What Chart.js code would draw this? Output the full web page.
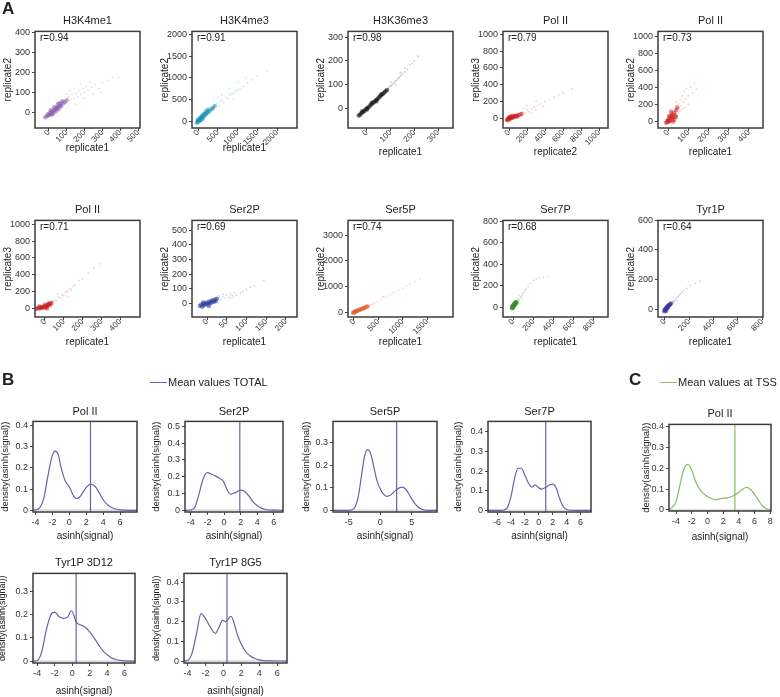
<!DOCTYPE html>
<html>
<head>
<meta charset="utf-8">
<script src="https://cdn.jsdelivr.net/npm/chart.js@4.4.1/dist/chart.umd.min.js"></script>
<style>
  body { margin: 0; background: #fff; }
  #fig { position: relative; width: 780px; height: 697px; font-family: "Liberation Sans", Arial, sans-serif; }
  #fig canvas { position: absolute; }
  .lbl { position: absolute; white-space: nowrap; color: #222; line-height: 1; }
  .key { position: absolute; height: 0; border-top: 1px solid; }
</style>
</head>
<body>
<div id="fig"></div>
<script>
// ---- panel A: replicate scatter plots ----
const scatterTitles = ["H3K4me1", "H3K4me3", "H3K36me3", "Pol II", "Pol II", "Pol II", "Ser2P", "Ser5P", "Ser7P", "Tyr1P"];
const scatterR = ["r=0.94", "r=0.91", "r=0.98", "r=0.79", "r=0.73", "r=0.71", "r=0.69", "r=0.74", "r=0.68", "r=0.64"];
const scatterXLabel = ["replicate1", "replicate1", "replicate1", "replicate2", "replicate1", "replicate1", "replicate1", "replicate1", "replicate1", "replicate1"];
const scatterYLabel = ["replicate2", "replicate2", "replicate2", "replicate3", "replicate2", "replicate3", "replicate2", "replicate2", "replicate2", "replicate2"];

const xTicksA = [[0, 100, 200, 300, 400, 500], [0, 500, 1000, 1500, 2000], [0, 100, 200, 300], [0, 200, 400, 600, 800, 1000], [0, 100, 200, 300, 400],
                 [0, 100, 200, 300, 400], [0, 50, 100, 150, 200], [0, 500, 1000, 1500], [0, 200, 400, 600, 800], [0, 200, 400, 600, 800]];
const yTicksA = [[0, 100, 200, 300, 400], [0, 500, 1000, 1500, 2000], [0, 100, 200, 300], [0, 200, 400, 600, 800, 1000], [0, 200, 400, 600, 800, 1000],
                 [0, 200, 400, 600, 800, 1000], [0, 100, 200, 300, 400, 500], [0, 1000, 2000, 3000], [0, 200, 400, 600, 800], [0, 200, 400, 600]];
const xRangeA = [[-77, 511], [-152, 2506], [-80, 363], [-67, 1100], [-50, 470], [-53, 505], [-38, 228], [-123, 2034], [-100, 940], [-57, 808]];
const yRangeA = [[-79, 405], [-160, 2068], [-83, 325], [-118, 1035], [-81, 1058], [-106, 1047], [-95, 568], [-192, 3577], [-92, 809], [-53, 600]];

const h3k4me1CoreX = [-20, -10, 0, 5, 10, 15, 20, 25, 30, 35, 40, 45, 50, 55, 60, 65, 70, 80, 90, 100, 30, 50, 10, 75, -5, 20, 40, 60];
const h3k4me1CoreY = [-25, -20, -15, -5, -12, 0, 5, -5, 10, 15, 5, 20, 25, 15, 30, 40, 30, 45, 50, 60, 25, 40, 10, 55, -10, -10, 20, 45];
const h3k4me1TailX = [110, 120, 130, 140, 150, 160, 170, 180, 190, 200, 210, 220, 240, 260, 280, 300, 330, 360, 390, 150, 200, 250, 120, 180, 140, 230, 290, 100];
const h3k4me1TailY = [75, 60, 90, 70, 95, 80, 110, 90, 120, 100, 130, 110, 125, 140, 120, 150, 160, 175, 175, 40, 70, 90, 110, 140, 120, 150, 100, 90];

const h3k4me3CoreX = [-30, -10, 0, 20, 40, 60, 80, 100, 120, 150, 180, 200, 230, 260, 300, 340, 380, 420, 0, 50, 100, 150, 200, 250, 60, 120];
const h3k4me3CoreY = [-40, -20, 0, 10, 30, 40, 70, 80, 100, 110, 150, 160, 190, 210, 240, 280, 300, 350, 40, 80, 130, 170, 220, 260, 10, 50];
const h3k4me3TailX = [480, 520, 560, 600, 650, 700, 750, 800, 850, 900, 950, 1000, 1060, 1150, 1250, 1350, 1500, 1740, 600, 800, 1000, 400, 500, 1200, 900];
const h3k4me3TailY = [400, 350, 450, 480, 430, 550, 520, 600, 620, 650, 700, 720, 745, 800, 880, 950, 1050, 1160, 600, 750, 900, 500, 550, 1000, 500];

const h3k36me3CoreX = [-35, -30, -25, -20, -15, -10, -5, 0, 5, 10, 15, 20, 25, 30, 35, 40, 45, 50, 55, 60, 65, 70, 75, 80, 85, -20, 0, 20, 40, 60];
const h3k36me3CoreY = [-30, -28, -22, -18, -14, -10, -4, 0, 4, 8, 14, 18, 22, 27, 32, 36, 41, 46, 50, 55, 60, 64, 69, 74, 78, -12, -5, 24, 30, 60];
const h3k36me3TailX = [90, 95, 100, 105, 110, 115, 120, 125, 130, 135, 140, 145, 150, 160, 170, 180, 190, 200, 215, 100, 120, 140, 160];
const h3k36me3TailY = [85, 92, 95, 98, 105, 110, 115, 118, 125, 130, 135, 140, 148, 155, 165, 185, 190, 200, 220, 110, 100, 150, 170];

const polII23CoreX = [-25, -15, -10, 0, 5, 10, 20, 30, 40, 50, 60, 70, 80, 100, 120, 140, 20, 40, 0, 90];
const polII23CoreY = [-20, -25, -10, -5, 5, -10, 0, 10, 5, 15, 20, 25, 30, 35, 40, 50, 20, 30, 10, 15];
const polII23TailX = [150, 180, 200, 220, 250, 280, 300, 320, 350, 380, 400, 450, 500, 550, 600, 700, 200, 300, 150, 250];
const polII23TailY = [70, 60, 100, 80, 110, 130, 100, 150, 170, 140, 200, 220, 250, 280, 300, 350, 150, 200, 120, 60];

const polII12CoreX = [-10, -5, 0, 0, 5, 10, 10, 15, 20, 20, 25, 30, 30, 35, 40, 40, 45, 15, 5, 25];
const polII12CoreY = [-20, 0, -10, 20, 10, 40, 0, 60, 30, 80, 50, 100, 20, 70, 130, 50, 160, 110, 60, -5];
const polII12TailX = [50, 55, 60, 65, 70, 75, 80, 85, 90, 100, 110, 120, 50, 60, 70, 130, 40, 100, 140, 80];
const polII12TailY = [200, 150, 250, 180, 300, 220, 350, 260, 384, 300, 400, 330, 100, 120, 140, 450, 230, 200, 380, 160];

const polII13CoreX = [-45, -40, -30, -25, -20, -15, -10, -5, 0, 5, 10, 15, 20, 25, 30, 35, -30, 0, 20, 10];
const polII13CoreY = [-10, 0, -5, 10, 0, 15, 5, 20, 10, 30, 20, 40, 30, 50, 45, 65, 20, 40, 60, -5];
const polII13TailX = [40, 50, 60, 70, 80, 90, 100, 110, 120, 130, 140, 150, 160, 180, 200, 230, 260, 290, 70, 120];
const polII13TailY = [80, 100, 90, 130, 120, 160, 150, 190, 200, 230, 220, 260, 280, 330, 350, 420, 480, 530, 170, 140];

const ser2pCoreX = [-18, -15, -12, -10, -8, -5, -2, 0, 2, 5, 8, 10, 12, 15, 18, 20, 22, 25, -10, 5];
const ser2pCoreY = [-20, -10, -25, -5, -15, 0, -10, 5, -5, 10, 0, 15, 5, 20, 10, 25, 15, 30, 5, -20];
const ser2pTailX = [28, 32, 35, 40, 45, 50, 55, 60, 65, 70, 75, 85, 90, 100, 110, 120, 144, 40, 60, 30];
const ser2pTailY = [30, 40, 25, 45, 35, 55, 40, 60, 50, 70, 55, 68, 80, 95, 110, 120, 155, 60, 35, 50];

const ser5pCoreX = [-20, -10, 0, 10, 20, 30, 40, 50, 60, 80, 100, 120, 140, 160, 180, 200, 220, 240, 260, 280];
const ser5pCoreY = [-30, -20, -10, 0, 10, 20, 30, 40, 50, 65, 80, 95, 110, 125, 140, 160, 175, 190, 205, 220];
const ser5pTailX = [300, 340, 380, 420, 460, 500, 560, 620, 680, 740, 800, 860, 920, 1000, 1080, 1150, 1250, 1350, 400, 600];
const ser5pTailY = [250, 280, 320, 360, 400, 440, 500, 560, 620, 680, 740, 800, 860, 930, 1010, 1100, 1200, 1300, 300, 600];

const ser7pCoreX = [-12, -10, -8, -5, -3, 0, 2, 5, 8, 10, 12, 15, 18, 20, 22, 25, 28, 30, 35, 0];
const ser7pCoreY = [-10, 5, -5, 10, 0, 15, 5, 20, 10, 30, 20, 35, 25, 40, 30, 45, 35, 48, 40, -8];
const ser7pTailX = [40, 45, 50, 60, 70, 80, 90, 100, 110, 120, 130, 150, 170, 200, 230, 260, 300, 340, 60, 90];
const ser7pTailY = [60, 50, 75, 70, 90, 100, 110, 130, 140, 160, 170, 190, 220, 248, 260, 270, 280, 285, 110, 80];

const tyr1pCoreX = [-5, -3, 0, 2, 5, 8, 10, 12, 15, 18, 20, 22, 25, 28, 30, 35, 40, 45, 48, 10];
const tyr1pCoreY = [-15, -5, -10, 0, -5, 5, 0, 10, 5, 15, 10, 20, 15, 25, 18, 28, 30, 35, 38, -12];
const tyr1pTailX = [50, 55, 60, 65, 70, 75, 80, 90, 100, 110, 120, 130, 140, 155, 180, 210, 250, 290, 70, 100];
const tyr1pTailY = [40, 30, 45, 50, 40, 60, 55, 70, 80, 85, 95, 105, 115, 127, 140, 160, 175, 190, 80, 60];

// ---- panels B and C: densities of asinh(signal) ----
const densTitles = ["Pol II", "Ser2P", "Ser5P", "Ser7P", "Pol II", "Tyr1P 3D12", "Tyr1P 8G5"];
const densMeans = [2.5, 1.9, 2.6, 1.0, 3.5, 0.45, 0.4];
const densXTicks = [[-4, -2, 0, 2, 4, 6], [-4, -2, 0, 2, 4, 6], [-5, 0, 5], [-6, -4, -2, 0, 2, 4, 6], [-4, -2, 0, 2, 4, 6, 8], [-4, -2, 0, 2, 4, 6], [-4, -2, 0, 2, 4, 6]];
const densYTicks = [[0, 0.1, 0.2, 0.3, 0.4], [0, 0.1, 0.2, 0.3, 0.4, 0.5], [0, 0.1, 0.2, 0.3], [0, 0.1, 0.2, 0.3, 0.4], [0, 0.1, 0.2, 0.3, 0.4], [0, 0.1, 0.2, 0.3], [0, 0.1, 0.2, 0.3, 0.4]];
const densXRange = [[-4.3, 8.0], [-4.7, 7.1], [-7.5, 9.0], [-7.3, 7.5], [-4.9, 8.1], [-4.5, 7.2], [-4.4, 7.1]];
const densYRange = [[-0.008, 0.42], [-0.01, 0.53], [-0.007, 0.395], [-0.008, 0.454], [-0.005, 0.41], [-0.008, 0.376], [-0.01, 0.444]];

const polIIx = [-4.3, -4, -3.5, -3, -2.5, -2, -1.7, -1.3, -1, -0.5, 0, 0.5, 0.8, 1.2, 1.6, 2, 2.5, 3, 3.5, 4, 4.5, 5, 5.5, 6, 6.5, 7, 8];
const polIIy = [0, 0.002, 0.012, 0.06, 0.17, 0.262, 0.28, 0.262, 0.205, 0.14, 0.11, 0.068, 0.056, 0.062, 0.085, 0.108, 0.123, 0.115, 0.085, 0.05, 0.027, 0.013, 0.006, 0.002, 0.001, 0, 0];
const ser2px = [-4.7, -4, -3.5, -3, -2.5, -2, -1.5, -1, -0.5, -0.1, 0.4, 0.8, 1.3, 2, 2.5, 3, 3.5, 4, 4.5, 5, 5.5, 6, 7.1];
const ser2py = [0, 0.002, 0.02, 0.1, 0.19, 0.225, 0.215, 0.204, 0.19, 0.175, 0.12, 0.096, 0.104, 0.12, 0.112, 0.085, 0.05, 0.027, 0.013, 0.005, 0.002, 0.001, 0];
const ser5px = [-7.5, -5, -4.5, -4, -3.5, -3, -2.5, -2, -1.5, -1, -0.5, 0, 0.5, 1, 1.5, 2, 2.5, 3, 3.5, 4, 4.5, 5, 5.5, 6, 6.5, 7, 7.5, 9];
const ser5py = [0, 0, 0.003, 0.015, 0.06, 0.15, 0.24, 0.27, 0.25, 0.19, 0.13, 0.095, 0.072, 0.062, 0.066, 0.077, 0.09, 0.1, 0.103, 0.095, 0.075, 0.05, 0.03, 0.015, 0.006, 0.002, 0, 0];
const ser7px = [-7.3, -5.5, -5, -4.5, -4, -3.5, -3, -2.5, -2, -1.5, -1, -0.5, 0, 0.4, 1, 1.5, 2, 2.5, 3, 3.5, 4, 4.5, 7.5];
const ser7py = [0, 0, 0.002, 0.015, 0.07, 0.16, 0.215, 0.215, 0.18, 0.14, 0.12, 0.13, 0.115, 0.109, 0.118, 0.13, 0.134, 0.115, 0.06, 0.02, 0.005, 0.001, 0];
const tssx = [-4.9, -4.5, -4, -3.5, -3, -2.5, -2, -1.5, -1, -0.5, 0, 0.5, 1, 1.5, 2, 2.5, 3, 3.5, 4, 4.5, 5, 5.5, 6, 6.5, 7, 7.5, 8.1];
const tssy = [0.002, 0.012, 0.04, 0.12, 0.195, 0.218, 0.19, 0.135, 0.1, 0.078, 0.065, 0.055, 0.049, 0.053, 0.057, 0.058, 0.063, 0.072, 0.085, 0.1, 0.108, 0.098, 0.075, 0.047, 0.02, 0.007, 0.002];
const tyr3d12x = [-4.5, -4, -3.5, -3, -2.5, -2, -1.5, -1, -0.5, -0.1, 0.5, 1, 1.5, 2, 2.5, 3, 3.5, 4, 4.5, 5, 5.5, 6, 7.2];
const tyr3d12y = [0, 0.003, 0.04, 0.13, 0.195, 0.21, 0.19, 0.183, 0.19, 0.217, 0.165, 0.155, 0.145, 0.125, 0.1, 0.072, 0.045, 0.027, 0.014, 0.007, 0.003, 0.001, 0];
const tyr8g5x = [-4.4, -4, -3.5, -3, -2.5, -2, -1.5, -0.9, -0.5, -0.1, 0.25, 0.5, 0.85, 1.2, 1.6, 2, 2.5, 3, 3.5, 4, 4.5, 5, 7.1];
const tyr8g5y = [0, 0.003, 0.04, 0.14, 0.24, 0.215, 0.175, 0.14, 0.17, 0.206, 0.2, 0.21, 0.227, 0.19, 0.128, 0.085, 0.047, 0.025, 0.013, 0.006, 0.002, 0.001, 0];

const FONT = '"Liberation Sans", Arial, sans-serif';
const fig = document.getElementById("fig");

function txt(s, x, y, opt) {
  opt = opt || {};
  const d = document.createElement("div");
  d.className = "lbl";
  d.textContent = s;
  d.style.left = x + "px";
  d.style.top = y + "px";
  d.style.fontSize = (opt.size || 11) + "px";
  if (opt.bold) d.style.fontWeight = "bold";
  d.style.transform = opt.left ? "translate(0,-50%)" : "translate(-50%,-50%)";
  fig.appendChild(d);
}

function pts(xs, ys) {
  return xs.map((x, i) => ({ x: x, y: ys[i] }));
}

const frame = {
  id: "frame",
  afterDatasetsDraw(chart) {
    const a = chart.chartArea;
    const ctx = chart.ctx;
    ctx.save();
    ctx.strokeStyle = "#3c3c3c";
    ctx.lineWidth = 1.5;
    ctx.strokeRect(a.left, a.top, a.right - a.left, a.bottom - a.top);
    ctx.restore();
  },
};

// box = [left, top, width, height] of the plotting panel in page px
function addChart(o) {
  const padT = 6, padR = 8;
  const W = o.yw + o.box[2] + padR;
  const H = padT + o.box[3] + o.xh;
  const cv = document.createElement("canvas");
  cv.width = W;
  cv.height = H;
  cv.style.left = o.box[0] - o.yw + "px";
  cv.style.top = o.box[1] - padT + "px";
  cv.style.width = W + "px";
  cv.style.height = H + "px";
  fig.appendChild(cv);

  const axis = (range, ticks, title, fix, rot, titleSize, tickSize) => ({
    type: "linear",
    min: range[0],
    max: range[1],
    afterBuildTicks: (s) => { s.ticks = ticks.map((v) => ({ value: v })); },
    afterFit: fix,
    grid: { display: true, drawOnChartArea: false, drawTicks: true, tickLength: 3, color: "#444", lineWidth: 1 },
    border: { display: false },
    ticks: { font: { size: tickSize, family: FONT }, color: "#333", padding: rot ? -3 : 2, autoSkip: false, minRotation: rot, maxRotation: rot, callback: (v) => String(v) },
    title: { display: true, text: title, padding: 0, color: "#222", font: { size: titleSize, family: FONT } },
  });

  new Chart(cv, {
    type: "scatter",
    data: { datasets: o.datasets },
    options: {
      responsive: false,
      animation: false,
      devicePixelRatio: 1,
      layout: { padding: { top: padT, right: padR, left: 0, bottom: 0 } },
      plugins: { legend: { display: false }, tooltip: { enabled: false } },
      scales: {
        x: axis(o.xr, o.xt, o.xTitle, (s) => { s.height = o.xh; }, o.rot, 10, o.rot ? 8 : 9),
        y: axis(o.yr, o.yt, o.yTitle, (s) => { s.width = o.yw; }, 0, o.yTitleSize || 10, 9),
      },
    },
    plugins: [frame],
  });
}

// ---- panel A ----
const scatterData = [
  [h3k4me1CoreX, h3k4me1CoreY, h3k4me1TailX, h3k4me1TailY],
  [h3k4me3CoreX, h3k4me3CoreY, h3k4me3TailX, h3k4me3TailY],
  [h3k36me3CoreX, h3k36me3CoreY, h3k36me3TailX, h3k36me3TailY],
  [polII23CoreX, polII23CoreY, polII23TailX, polII23TailY],
  [polII12CoreX, polII12CoreY, polII12TailX, polII12TailY],
  [polII13CoreX, polII13CoreY, polII13TailX, polII13TailY],
  [ser2pCoreX, ser2pCoreY, ser2pTailX, ser2pTailY],
  [ser5pCoreX, ser5pCoreY, ser5pTailX, ser5pTailY],
  [ser7pCoreX, ser7pCoreY, ser7pTailX, ser7pTailY],
  [tyr1pCoreX, tyr1pCoreY, tyr1pTailX, tyr1pTailY],
];
const scatterColor = ["138,92,176", "30,143,184", "20,20,20", "204,30,30", "204,30,30", "204,30,30", "40,60,155", "224,96,48", "58,138,44", "59,52,160"];
const boxLeftA = [35, 192, 348, 503, 658];
const boxTopA = [30, 219];
const xhA = [26, 26, 30, 30, 30, 31, 31, 31, 31, 31];

scatterTitles.forEach((t, i) => {
  const col = i % 5, row = Math.floor(i / 5);
  const box = [boxLeftA[col], boxTopA[row], 105, 98];
  const d = scatterData[i];
  const c = scatterColor[i];
  addChart({
    box: box, yw: 33, xh: xhA[i], rot: 45,
    xr: xRangeA[i], yr: yRangeA[i], xt: xTicksA[i], yt: yTicksA[i],
    xTitle: scatterXLabel[i], yTitle: scatterYLabel[i],
    datasets: [
      { data: pts(d[0], d[1]), pointRadius: 2.2, pointBorderWidth: 0, backgroundColor: "rgba(" + c + ",0.55)" },
      { data: pts(d[2], d[3]), pointRadius: 0.9, pointBorderWidth: 0, backgroundColor: "rgba(" + c + ",0.22)" },
    ],
  });
  txt(t, box[0] + box[2] / 2, row === 0 ? 20 : 209, { size: 11 });
  txt(scatterR[i], box[0] + 5, box[1] + 8, { size: 10, left: true });
});

// ---- panels B and C ----
const densCurves = [[polIIx, polIIy], [ser2px, ser2py], [ser5px, ser5py], [ser7px, ser7py], [tssx, tssy], [tyr3d12x, tyr3d12y], [tyr8g5x, tyr8g5y]];
const densBoxes = [[33, 420, 104, 92], [185, 420, 98, 92], [333, 420, 104, 92], [488, 420, 103, 92], [669, 423, 102, 88], [33, 572, 102, 91], [184, 572, 103, 91]];
const densYW = [33, 34, 32, 35, 28, 36, 33];
const densXH = [30, 30, 30, 30, 32, 34, 34];
const densTitleY = [411, 411, 411, 411, 413, 562, 562];
const PURPLE = "#6f5fa8", GREEN = "#8dba62";

densTitles.forEach((t, i) => {
  const col = i === 4 ? GREEN : PURPLE;
  const xr = densXRange[i], yr = densYRange[i];
  addChart({
    box: densBoxes[i], yw: densYW[i], xh: densXH[i], rot: 0,
    xr: xr, yr: yr, xt: densXTicks[i], yt: densYTicks[i],
    xTitle: "asinh(signal)", yTitle: "density(asinh(signal))", yTitleSize: i >= 5 ? 9 : 9.5,
    datasets: [
      { data: pts(densCurves[i][0], densCurves[i][1]), showLine: true, borderColor: col, borderWidth: 1.2, pointRadius: 0, cubicInterpolationMode: "monotone" },
      { data: pts([densMeans[i], densMeans[i]], [yr[0], yr[1]]), showLine: true, borderColor: col, borderWidth: 1.2, pointRadius: 0 },
      { data: pts([xr[0], xr[1]], [0, 0]), showLine: true, borderColor: "#dcdcdc", borderWidth: 2, pointRadius: 0 },
    ],
  });
  txt(t, densBoxes[i][0] + densBoxes[i][2] / 2, densTitleY[i], { size: 11 });
});

// panel letters and mean-line keys
txt("A", 2, 8, { size: 17, bold: true, left: true });
txt("B", 2, 379, { size: 17, bold: true, left: true });
txt("C", 629, 379, { size: 17, bold: true, left: true });

function key(x0, x1, y, color, label) {
  const k = document.createElement("div");
  k.className = "key";
  k.style.left = x0 + "px";
  k.style.top = y + "px";
  k.style.width = x1 - x0 + "px";
  k.style.borderColor = color;
  fig.appendChild(k);
  txt(label, x1 + 1, y, { size: 11, left: true });
}
key(150, 167, 382, PURPLE, "Mean values TOTAL");
key(660, 677, 382, GREEN, "Mean values at TSS");
</script>
</body>
</html>
